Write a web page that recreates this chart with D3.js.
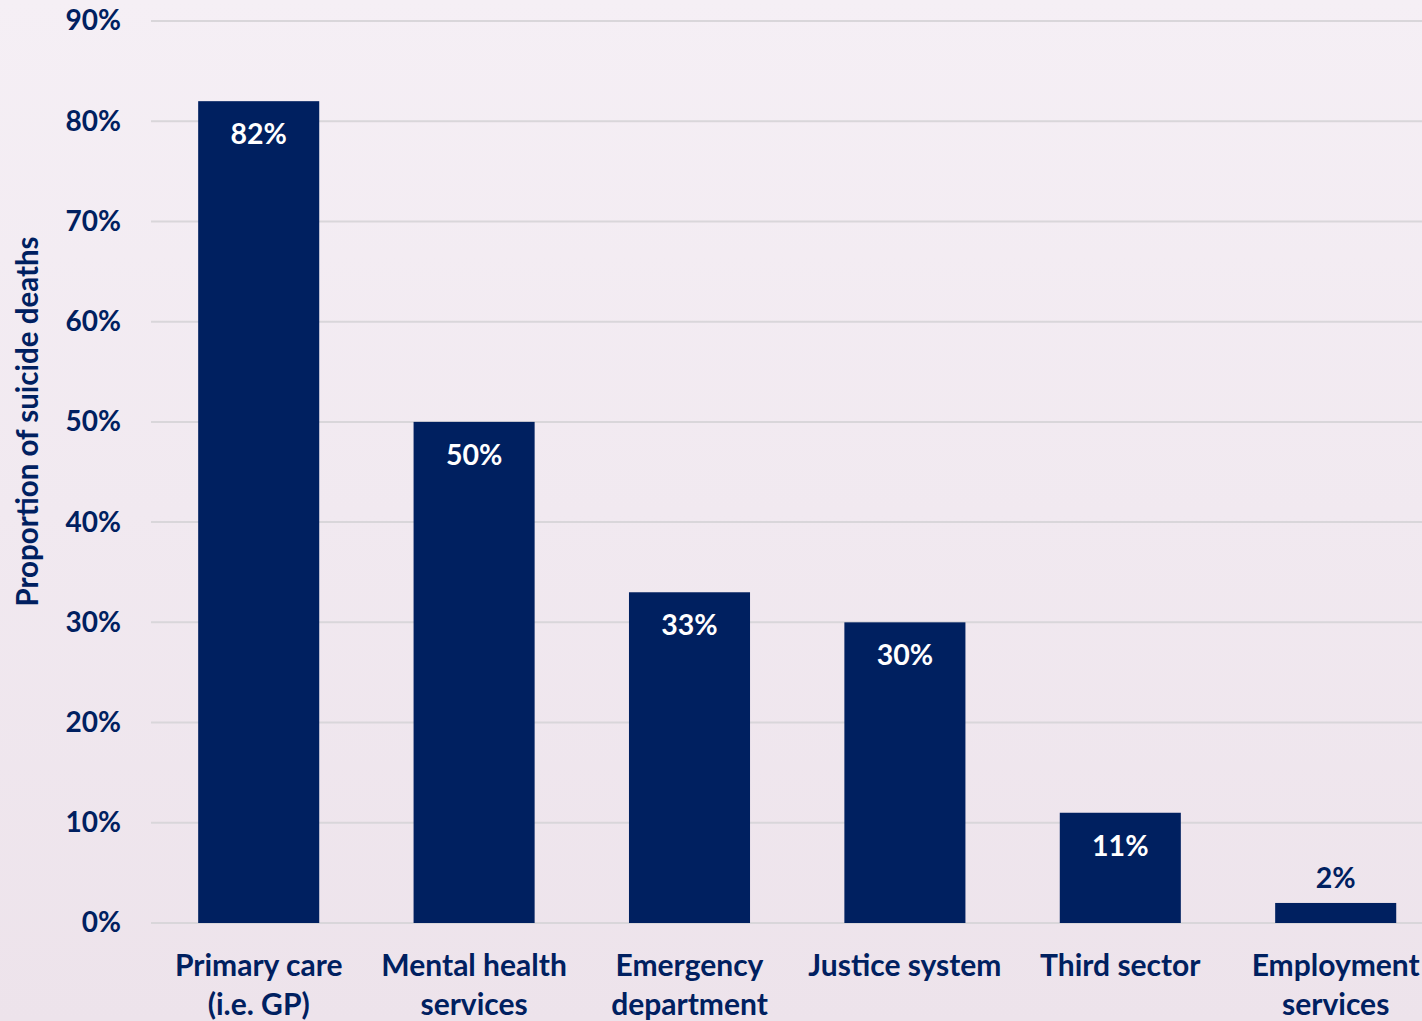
<!DOCTYPE html>
<html>
<head>
<meta charset="utf-8">
<script src="https://cdn.jsdelivr.net/npm/d3@7"></script>
<style>
    body { margin: 0; overflow: hidden; }
    svg { display: block; font-family: Lato, "Open Sans", sans-serif; font-weight: 700; }
</style>
</head>
<body>
<svg id="chart" width="1422" height="1021"></svg>
<script>
const categories = [
    ["Primary care", "(i.e. GP)"],
    ["Mental health", "services"],
    ["Emergency", "department"],
    ["Justice system"],
    ["Third sector"],
    ["Employment", "services"]
];
const values = [82, 50, 33, 30, 11, 2];
const yTicks = [0, 10, 20, 30, 40, 50, 60, 70, 80, 90];

const navy = "#002060";
const svg = d3.select("#chart");

// soft background gradient
const grad = svg.append("defs").append("linearGradient")
    .attr("id", "bg").attr("x1", 0).attr("y1", 0).attr("x2", 0).attr("y2", 1);
grad.append("stop").attr("offset", "0%").attr("stop-color", "#f5eff5");
grad.append("stop").attr("offset", "100%").attr("stop-color", "#ede3eb");
svg.append("rect").attr("width", 1422).attr("height", 1021).attr("fill", "url(#bg)");

const x = d3.scaleBand()
    .domain(d3.range(categories.length))
    .range([151, 151 + 6 * 215.4])
    .paddingInner(0.438)
    .paddingOuter(0.219);

const y = d3.scaleLinear().domain([0, 90]).range([923, 21]);

// gridlines
svg.append("g").selectAll("line")
    .data(yTicks)
    .join("line")
    .attr("x1", 151).attr("x2", 1422)
    .attr("y1", d => y(d)).attr("y2", d => y(d))
    .attr("stroke", "#d9d6da").attr("stroke-width", 2);

// y axis labels
const yAxis = svg.append("g")
    .attr("transform", "translate(121,0)")
    .call(d3.axisLeft(y).tickValues(yTicks).tickFormat(d => `${d}%`).tickSize(0).tickPadding(0));
yAxis.select(".domain").remove();
yAxis.selectAll("text")
    .attr("fill", navy)
    .style("font-size", "28px")
    .style("font-family", "Lato, sans-serif")
    .style("font-weight", 700);

// axis title
svg.append("text")
    .attr("transform", `translate(38,${(235 + 608) / 2}) rotate(-90)`)
    .attr("text-anchor", "middle")
    .attr("fill", navy)
    .style("font-size", "29.5px")
    .text("Proportion of suicide deaths");

// bars
svg.append("g").selectAll("rect")
    .data(values)
    .join("rect")
    .attr("x", (d, i) => x(i))
    .attr("width", x.bandwidth())
    .attr("y", d => y(d))
    .attr("height", d => y(0) - y(d))
    .attr("fill", navy);

// value labels
svg.append("g").selectAll("text")
    .data(values)
    .join("text")
    .attr("x", (d, i) => x(i) + x.bandwidth() / 2)
    .attr("y", d => d > 5 ? y(d) + 43 : y(d) - 15)
    .attr("text-anchor", "middle")
    .attr("fill", d => d > 5 ? "#ffffff" : navy)
    .style("font-size", "28.5px")
    .text(d => `${d}%`);

// category labels
const cat = svg.append("g").selectAll("text")
    .data(categories)
    .join("text")
    .attr("x", (d, i) => x(i) + x.bandwidth() / 2)
    .attr("y", 976)
    .attr("text-anchor", "middle")
    .attr("fill", navy)
    .style("font-size", "30px");

cat.selectAll("tspan")
    .data(d => d)
    .join("tspan")
    .attr("x", function () { return this.parentNode.getAttribute("x"); })
    .attr("dy", (d, i) => i === 0 ? 0 : 39)
    .text(d => d);
</script>
</body>
</html>
